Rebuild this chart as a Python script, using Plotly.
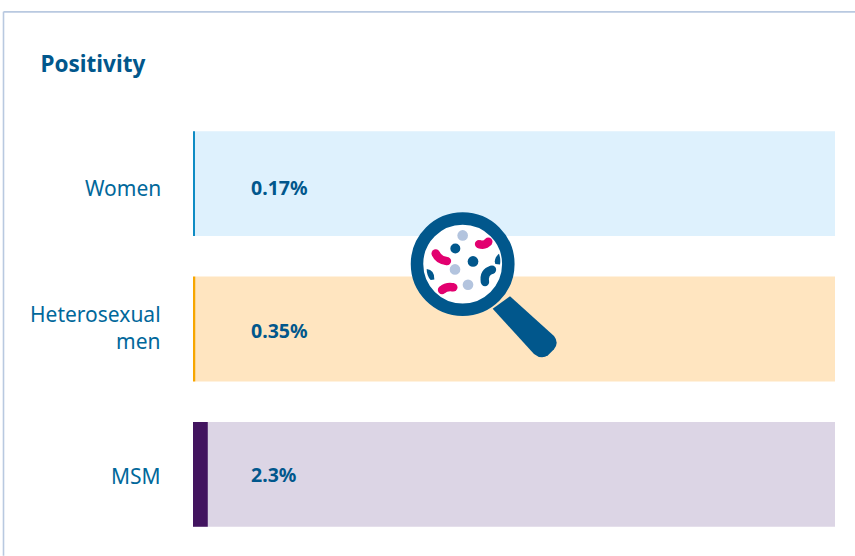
import plotly.graph_objects as go

categories = ["Women", "Heterosexual<br>men", "MSM"]
positivity = [0.17, 0.35, 2.3]
value_labels = ["0.17%", "0.35%", "2.3%"]
track_total = [100, 100, 100]
bar_colors = ["#0f8cc4", "#f7a600", "#42145f"]
track_colors = ["#def1fd", "#ffe5c0", "#dcd5e5"]

W, H = 855, 556
L, R, T, B = 193, 835, 110.75, 547.25
DARK = "#01578c"
LABEL = "#01689b"
PINK = "#e2006f"
PALE = "#b3c4de"
FONT = "Noto Sans"
category_yshift = [-4.5, 2, -2]
value_yshift = [-4, -1.5, 0]


def px(x):
    return (x - L) / (R - L)


def py(y):
    return (B - y) / (B - T)


def zx(x):
    return px(400 + x / 3)


def zy(y):
    return py(200 + y / 3)


def circle(cx, cy, r, fill, line=None, lw=0):
    return dict(type="circle", xref="paper", yref="paper", layer="above",
                x0=zx(cx - r), x1=zx(cx + r), y0=zy(cy + r), y1=zy(cy - r),
                fillcolor=fill, line=dict(color=line or fill, width=lw))


def path(d, fill="rgba(0,0,0,0)", line=None, lw=0):
    parts = []
    toks = d.split()
    i = 0
    while i < len(toks):
        t = toks[i]
        if t.isalpha():
            parts.append(t)
            i += 1
        else:
            parts.append(f"{zx(float(t)):.5f},{zy(float(toks[i + 1])):.5f}")
            i += 2
    return dict(type="path", xref="paper", yref="paper", layer="above",
                path=" ".join(parts), fillcolor=fill,
                line=dict(color=line or "rgba(0,0,0,0)", width=lw))


def worm(x0, y0, cx, cy, x1, y1, color, w=25):
    return [
        path(f"M {x0} {y0} Q {cx} {cy} {x1} {y1}", line=color, lw=w / 3),
        circle(x0, y0, w / 2, color),
        circle(x1, y1, w / 2, color),
    ]


shapes = [
    dict(type="line", xref="paper", yref="paper", layer="below",
         x0=px(3.5), x1=px(855), y0=py(11.5), y1=py(11.5),
         line=dict(color="#b9c9e0", width=1.6)),
    dict(type="line", xref="paper", yref="paper", layer="below",
         x0=px(3.5), x1=px(3.5), y0=py(11.5), y1=py(556),
         line=dict(color="#b9c9e0", width=1.6)),
    path("M 278 326 L 330 289 L 462 408 Q 478 428 462 448 L 444 466 "
         "Q 424 480 402 462 Z", fill=DARK),
    circle(188, 192, 137, "#ffffff", DARK, 12.5),
    circle(188, 106, 16, PALE),
    circle(165, 208, 16, PALE),
    circle(204, 254, 16, PALE),
    circle(166, 145, 15, DARK),
    circle(219, 184, 16, DARK),
    path("M 297 161 Q 280 176 286 192 L 300 193 Q 303 178 297 161 Z", fill=DARK),
    path("M 80 207 Q 104 210 103 238 L 92 240 Q 80 228 80 207 Z", fill=DARK),
]
shapes += worm(107, 160, 115, 180, 141, 183, PINK)
shapes += worm(237, 132, 255, 138, 265, 125, PINK)
shapes += worm(126, 270, 140, 258, 160, 262, PINK)
shapes += worm(255, 246, 250, 216, 276, 209, DARK)

fig = go.Figure()
fig.add_bar(y=categories, x=track_total, orientation="h",
            marker=dict(color=track_colors, line_width=0), hoverinfo="skip")
fig.add_bar(y=categories, x=positivity, orientation="h",
            marker=dict(color=bar_colors, line_width=0))

annotations = []
for cat, label, cs, vs in zip(categories, value_labels, category_yshift, value_yshift):
    annotations.append(dict(
        xref="paper", x=px(162), xanchor="right", yref="y", y=cat, yanchor="middle",
        yshift=cs, text=cat, showarrow=False, align="right", borderpad=0,
        font=dict(family=FONT, size=21, color=LABEL)))
    annotations.append(dict(
        xref="x", x=8.85, xanchor="left", yref="y", y=cat, yanchor="middle",
        yshift=vs, text=f"<b>{label}</b>", showarrow=False, borderpad=0,
        font=dict(family=FONT, size=19.5, color=DARK)))

fig.update_layout(
    width=W, height=H, showlegend=False, barmode="overlay", bargap=1 - 105 / 145.5,
    paper_bgcolor="#ffffff", plot_bgcolor="#ffffff",
    margin=dict(l=L, r=W - R, t=T, b=H - B, pad=0),
    title=dict(text="<b>Positivity</b>", x=40.5 / W, xanchor="left", xref="container",
               y=1 - 64 / H, yanchor="middle", yref="container",
               font=dict(family=FONT, size=22.5, color=DARK)),
    xaxis=dict(range=[0, 100], visible=False, fixedrange=True),
    yaxis=dict(type="category", categoryorder="array", categoryarray=categories,
               range=[2.5, -0.5], showgrid=False, zeroline=False, showline=False,
               ticks="", showticklabels=False),
    shapes=shapes,
    annotations=annotations,
)
fig.write_html("out.html", config=dict(displayModeBar=False),
               post_script="document.body.style.margin='0';document.body.style.overflow='hidden';")
